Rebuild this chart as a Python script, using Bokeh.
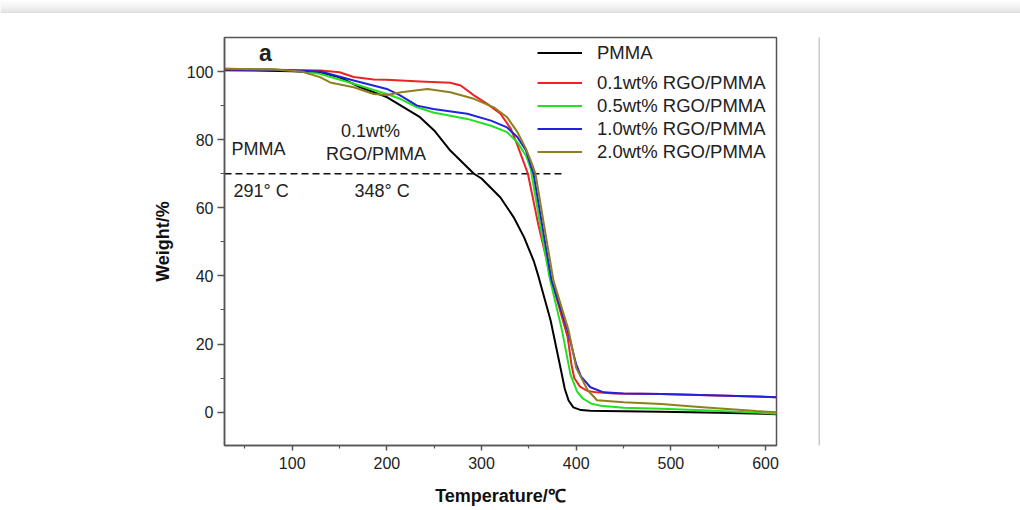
from bokeh.plotting import figure
from bokeh.models import Range1d, Label, Legend, LegendItem, FixedTicker
from bokeh.layouts import row, column
from bokeh.embed import file_html
from bokeh.resources import INLINE

# ---- data ----
t_pmma = [28, 60, 100, 130, 150, 172, 200, 221, 235, 250, 267, 285, 292, 300, 320, 334, 345, 355, 360, 373, 384, 388, 392, 397, 405, 415, 430, 490, 550, 612]
w_pmma = [100.4, 100.3, 100.1, 99.7, 98.3, 95.4, 92.5, 89.0, 86.6, 82.7, 76.8, 71.9, 70.0, 68.6, 63.0, 57.2, 51.3, 44.5, 40.0, 26.9, 12.2, 6.8, 3.4, 1.4, 0.6, 0.4, 0.3, 0.1, -0.2, -0.6]

t_01 = [28, 80, 130, 150, 165, 186, 200, 235, 267, 278, 292, 306, 320, 331, 338, 349, 360, 374, 391, 395, 398, 404, 412, 422, 440, 490, 550, 612]
w_01 = [100.6, 100.5, 100.3, 99.8, 98.4, 97.7, 97.6, 97.1, 96.7, 95.9, 93.0, 90.5, 87.6, 83.2, 78.3, 70.0, 55.0, 38.6, 22.0, 14.0, 10.0, 7.5, 6.2, 5.8, 5.5, 5.3, 4.9, 4.4]

t_05 = [28, 80, 110, 130, 165, 200, 214, 232, 249, 285, 310, 327, 338, 347, 352, 362, 371.5, 385, 394, 401, 407, 416, 426, 450, 490, 540, 580, 612]
w_05 = [100.8, 100.6, 100.2, 99.3, 96.4, 93.4, 92.0, 89.5, 88.0, 86.1, 84.1, 82.2, 79.2, 75.3, 71.4, 55.0, 40.0, 24.0, 11.0, 6.0, 4.0, 2.5, 1.9, 1.3, 1.0, 0.5, 0.0, -0.5]

t_10 = [28, 80, 130, 165, 200, 214, 232, 249, 285, 310, 327, 338, 347, 352, 355, 364, 374, 391, 400, 405, 415, 429, 450, 490, 550, 612]
w_10 = [100.6, 100.5, 100.0, 97.4, 94.9, 93.0, 90.0, 89.0, 87.6, 85.6, 83.6, 80.7, 76.8, 72.4, 70.0, 55.0, 38.6, 24.0, 14.0, 10.5, 7.3, 5.8, 5.5, 5.3, 4.9, 4.4]

t_20 = [28, 80, 110, 130, 140, 165, 186, 200, 215, 243, 267, 292, 313, 327, 338, 347, 354, 357, 366, 376, 392, 400, 412, 422, 450, 490, 530, 560, 590, 612]
w_20 = [100.8, 100.6, 100.0, 98.3, 96.8, 95.4, 93.4, 93.1, 93.9, 94.9, 93.9, 92.0, 89.5, 86.6, 82.2, 77.3, 72.4, 70.0, 55.0, 38.6, 24.0, 13.0, 6.5, 3.5, 2.9, 2.4, 1.5, 0.9, 0.3, 0.0]

names = ["PMMA", "0.1wt% RGO/PMMA", "0.5wt% RGO/PMMA", "1.0wt% RGO/PMMA", "2.0wt% RGO/PMMA"]
colors = ["#000000", "#ee2222", "#22e022", "#2222dd", "#8f7f1f"]

onset_level = 70
onset_pmma = 291
onset_rgo = 348

FONT = "Liberation Sans"

# ---- top shadow band of the page frame (decoration) ----
band = figure(width=1020, height=13, output_backend="svg", toolbar_location=None,
              x_axis_type=None, y_axis_type=None, min_border=0,
              x_range=Range1d(0, 1), y_range=Range1d(0, 13))
band.outline_line_color = None
band.grid.visible = False
band.border_fill_color = "white"
band.background_fill_color = "white"
shade = ["#d2d2d2", "#d8d8d8", "#dddddd", "#e2e2e2", "#e6e6e6", "#eaeaea", "#ededed",
         "#f0f0f0", "#f3f3f3", "#f5f5f5", "#f7f7f7", "#f9f9f9", "#fbfbfb"]
band.quad(left=[0] * 13, right=[1] * 13, bottom=list(range(13)), top=[i + 1 for i in range(13)],
          fill_color=shade, line_color=None)

# ---- main chart ----
p = figure(width=818, height=497, output_backend="svg", toolbar_location=None,
           x_range=Range1d(28.5, 611.6), y_range=Range1d(-9.8, 110),
           min_border_left=224, min_border_right=42, min_border_top=24, min_border_bottom=65)
p.background_fill_color = "white"
p.border_fill_color = "white"
p.grid.visible = False
p.outline_line_color = "#555555"
p.outline_line_width = 1.5

# dashed onset line
p.line([28.5, 387], [onset_level, onset_level], line_color="#111111", line_width=1.5, line_dash="7 4")

series = [(t_pmma, w_pmma), (t_01, w_01), (t_05, w_05), (t_10, w_10), (t_20, w_20)]
rends = []
for (t, w), c in zip(series, colors):
    rends.append(p.line(t, w, line_color=c, line_width=2, line_join="round"))

# axes
p.xaxis.ticker = FixedTicker(ticks=[100, 200, 300, 400, 500, 600], minor_ticks=[50, 150, 250, 350, 450, 550])
p.yaxis.ticker = FixedTicker(ticks=[0, 20, 40, 60, 80, 100], minor_ticks=[-10, 10, 30, 50, 70, 90])
for ax in (p.xaxis[0], p.yaxis[0]):
    ax.axis_line_color = "#555555"
    ax.axis_line_width = 1.5
    ax.major_tick_line_color = "#555555"
    ax.minor_tick_line_color = "#555555"
    ax.major_tick_line_width = 1.5
    ax.minor_tick_line_width = 1.2
    ax.major_label_text_font = FONT
    ax.major_label_text_font_size = "16px"
    ax.major_label_text_color = "#222222"
    ax.axis_label_text_font = FONT
    ax.axis_label_text_font_style = "bold"
    ax.axis_label_text_font_size = "18px"
    ax.axis_label_text_color = "#111111"
p.xaxis.major_tick_out = 5
p.xaxis.major_tick_in = 0
p.xaxis.minor_tick_out = 3
p.xaxis.minor_tick_in = 0
p.yaxis.major_tick_out = 7
p.yaxis.major_tick_in = 0
p.yaxis.minor_tick_out = 4
p.yaxis.minor_tick_in = 0
p.xaxis.major_label_standoff = 6
p.yaxis.major_label_standoff = 4
p.xaxis.axis_label = "Temperature/\u2103"
p.yaxis.axis_label = "Weight/%"
p.xaxis.axis_label_standoff = 14
p.yaxis.axis_label_standoff = 11

# annotations
def lab(x, y, text, align="left", size="18px", style="normal"):
    p.add_layout(Label(x=x, y=y, text=text, text_font=FONT, text_font_size=size,
                       text_font_style=style, text_color="#222222",
                       text_align=align, text_baseline="middle"))

lab(71.8, 105.5, "a", align="center", size="23px", style="bold")
lab(35.9, 77.2, "PMMA")
lab(38, 65, f"{onset_pmma}\u00b0 C")
lab(182.7, 82.6, "0.1wt%", align="center")
lab(188.5, 75.7, "RGO/PMMA", align="center")
lab(194.9, 65, f"{onset_rgo}\u00b0 C", align="center")

# legends
leg_kw = dict(padding=0, margin=0, spacing=0, label_height=23, glyph_height=23, glyph_width=45,
              label_standoff=15, border_line_alpha=0, background_fill_alpha=0,
              label_text_font=FONT, label_text_font_size="18.5px", label_text_color="#222222")
leg1 = Legend(items=[LegendItem(label=names[0], renderers=[rends[0]])], location=(313, 381), **leg_kw)
leg2 = Legend(items=[LegendItem(label=n, renderers=[r]) for n, r in zip(names[1:], rends[1:])],
              location=(313, 282), **leg_kw)
p.add_layout(leg1)
p.add_layout(leg2)

# thin page-frame strip at the right of the image (decoration)
strip = figure(width=2, height=497, output_backend="svg", toolbar_location=None,
               x_axis_type=None, y_axis_type=None, min_border=0, min_border_top=11,
               x_range=Range1d(0, 1), y_range=Range1d(0, 1))
strip.background_fill_color = "#c8c8c8"
strip.border_fill_color = "white"
strip.outline_line_color = None
strip.grid.visible = False

layout = column(band, row(p, strip))
open("out.html", "w").write(file_html(layout, INLINE))
